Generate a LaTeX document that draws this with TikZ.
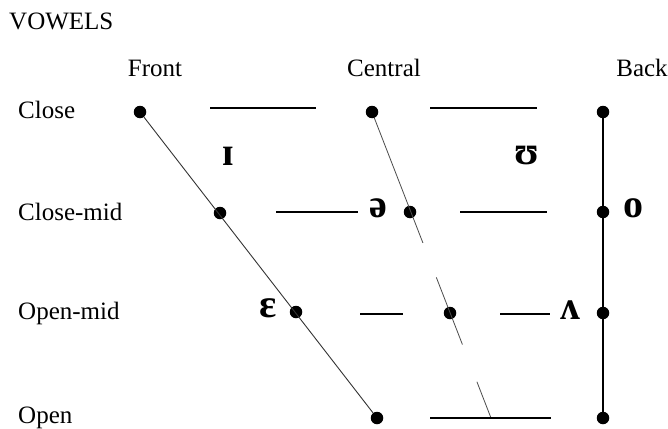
\documentclass[tikz,border=0pt]{standalone}
\usepackage{fontspec}
\setmainfont{Liberation Serif}
\usetikzlibrary{positioning}
\begin{document}
\begin{tikzpicture}[
  x=1pt, y=-1pt,
  every node/.style={font=\fontsize{25}{29}\selectfont},
  dot/.style={circle, fill=black, minimum size=12.5pt, inner sep=0pt},
  lab/.style={anchor=west, inner sep=0pt},
  ipa/.style={font=\fontsize{40}{44}\selectfont\bfseries, inner sep=0pt},
  hline/.style={line width=1.4pt},
]
\useasboundingbox (0,0) rectangle (668,428);
% headings
\node[lab] (title) at (9,21) {VOWELS};
\node (front) at (155,68) {Front};
\node (central) at (384,68) {Central};
\node (back) at (642,68) {Back};
\node[lab] (close) at (18,110) {Close};
\node[lab] (closemid) at (18,212) {Close-mid};
\node[lab] (openmid) at (18,313) {Open-mid};
\node[lab] (open) at (18,418) {Open};
% dots
\node[dot] (fc) at (140,112) {};
\node[dot] (fcm) at (220,213) {};
\node[dot] (fom) at (296,312) {};
\node[dot] (fo) at (377,418) {};
\node[dot] (cc) at (372,112) {};
\node[dot] (ccm) at (410,212) {};
\node[dot] (com) at (450,313) {};
\coordinate (co) at (491,418);
\node[dot] (bc) at (603,112) {};
\node[dot] (bcm) at (603,212) {};
\node[dot] (bom) at (603,313) {};
\node[dot] (bo) at (603,418) {};
% symbols
\node[ipa] (ih) at (228,156) {ɪ};
\node[ipa] (uh) at (527,156) {ʊ};
\node[ipa] (schwa) at (378,208) {ə};
\node[ipa] (eh) at (268,308) {ɛ};
\node[ipa] (oh) at (633,208) {o};
\node[ipa] (wedge) at (570,310) {ʌ};
% lines
\draw[line width=0.9pt, black!80] (fc) -- (fo);
\draw[line width=0.8pt, black!70, dash pattern=on 134pt off 37pt on 72pt off 40pt on 60pt] (cc) -- (co);
\draw[line width=2pt] (bc) -- (bo);
\draw[hline] (210,108) -- (316,108);
\draw[hline] (430,108) -- (537,108);
\draw[hline] (276,212) -- (358,212);
\draw[hline] (460,212) -- (547,212);
\draw[hline] (360,314) -- (403,314);
\draw[hline] (500,314) -- (550,314);
\draw[hline] (430,418) -- (551,418);
\end{tikzpicture}
\end{document}
